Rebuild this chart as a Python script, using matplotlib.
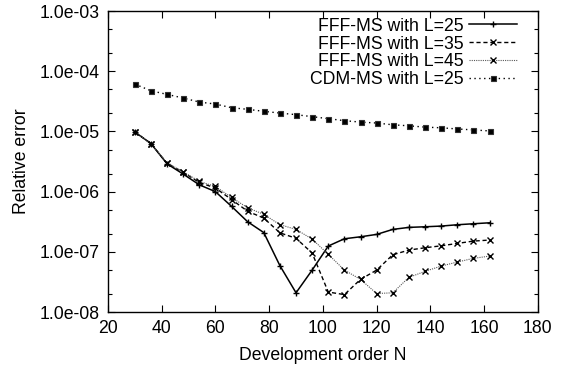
import matplotlib
matplotlib.use("Agg")
import matplotlib.pyplot as plt
from matplotlib.ticker import LogLocator, FuncFormatter, MultipleLocator, NullFormatter

plt.rcParams['font.family'] = ['Liberation Sans', 'DejaVu Sans']
FS = 12.7

# development order N
order = [30, 36, 42, 48, 54, 60, 66, 72, 78, 84, 90, 96, 102, 108, 114, 120,
         126, 132, 138, 144, 150, 156, 162]

# relative errors
fff_l25 = [9.8e-6, 6.3e-6, 2.9e-6, 1.96e-6, 1.3e-6, 1.0e-6, 5.7e-7, 3.16e-7,
           2.09e-7, 5.9e-8, 2.09e-8, 4.98e-8, 1.25e-7, 1.65e-7, 1.78e-7, 1.95e-7,
           2.36e-7, 2.55e-7, 2.61e-7, 2.68e-7, 2.82e-7, 2.93e-7, 3.04e-7]
fff_l35 = [9.8e-6, 6.3e-6, 2.95e-6, 2.1e-6, 1.42e-6, 1.15e-6, 7.4e-7, 4.72e-7,
           3.64e-7, 2.07e-7, 1.68e-7, 9.55e-8, 2.15e-8, 1.95e-8, 3.49e-8, 4.98e-8,
           8.95e-8, 1.07e-7, 1.17e-7, 1.26e-7, 1.38e-7, 1.51e-7, 1.57e-7]
fff_l45 = [9.8e-6, 6.3e-6, 3.0e-6, 2.14e-6, 1.48e-6, 1.22e-6, 8.0e-7, 5.4e-7,
           4.2e-7, 2.83e-7, 2.36e-7, 1.63e-7, 9.1e-8, 4.98e-8, 3.49e-8, 2.03e-8,
           2.09e-8, 3.77e-8, 4.74e-8, 5.81e-8, 6.77e-8, 7.8e-8, 8.5e-8]
cdm_l25 = [6.12e-5, 4.74e-5, 4.13e-5, 3.59e-5, 3.08e-5, 2.85e-5, 2.48e-5, 2.33e-5,
           2.16e-5, 2.02e-5, 1.9e-5, 1.76e-5, 1.63e-5, 1.51e-5, 1.43e-5, 1.38e-5,
           1.29e-5, 1.24e-5, 1.18e-5, 1.15e-5, 1.1e-5, 1.06e-5, 1.02e-5]

fig = plt.figure(figsize=(5.71, 3.68), dpi=100)
ax = fig.add_axes([0.189, 0.152, 0.753, 0.818])

ax.plot(order, fff_l25, color="black", lw=1.1, marker="+", ms=5, mew=1.0,
        label="FFF-MS with L=25")
ax.plot(order, fff_l35, color="black", lw=1.0, ls=(0, (3, 2)), marker="x", ms=4.5,
        mew=1.0, label="FFF-MS with L=35")
ax.plot(order, fff_l45, color="0.35", lw=0.8, ls=(0, (1, 1)), marker="x", ms=4.5,
        mew=1.0, mec="black", label="FFF-MS with L=45")
ax.plot(order, cdm_l25, color="black", lw=1.0, ls=(0, (1, 2.5)), marker="s",
        ms=3.6, mew=0.8, mec="0.2", mfc="black", label="CDM-MS with L=25")

ax.set_yscale("log")
ax.set_xlim(20, 180)
ax.set_ylim(1e-8, 1e-3)
ax.xaxis.set_major_locator(MultipleLocator(20))
ax.yaxis.set_major_locator(LogLocator(base=10, numticks=10))
ax.yaxis.set_minor_locator(LogLocator(base=10, subs=(2, 5), numticks=10))
ax.yaxis.set_minor_formatter(NullFormatter())
ax.yaxis.set_major_formatter(FuncFormatter(lambda v, p: "%.1e" % v))

ax.tick_params(which="both", direction="in", top=True, right=True,
               labelsize=FS, width=0.8)
ax.tick_params(which="major", length=5, pad=6)
ax.tick_params(which="minor", length=3)
for s in ax.spines.values():
    s.set_linewidth(1.0)

ax.set_xlabel("Development order N", fontsize=FS, labelpad=7)
ax.set_ylabel("Relative error", fontsize=FS, labelpad=7)

ax.legend(loc="upper right", bbox_to_anchor=(0.951, 0.978), frameon=False,
          markerfirst=False, fontsize=FS, handlelength=2.7, handletextpad=0.34,
          borderpad=0, borderaxespad=0, labelspacing=0.05)

fig.savefig("out.png", dpi=100)
